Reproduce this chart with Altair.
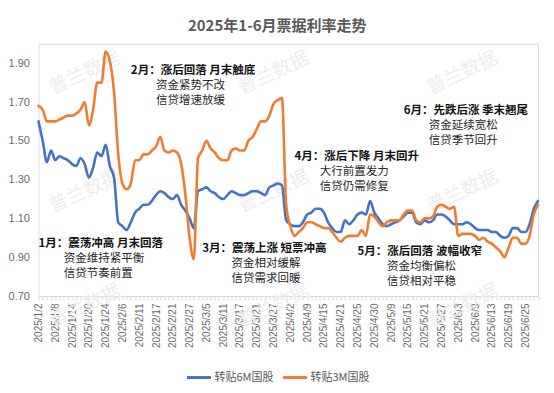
import json
import altair as alt
import pandas as pd

# ---------------- data ----------------
DATES = [
    "2025/1/2", "2025/1/3", "2025/1/6", "2025/1/7", "2025/1/8", "2025/1/9", "2025/1/10",
    "2025/1/13", "2025/1/14", "2025/1/15", "2025/1/16", "2025/1/17", "2025/1/20", "2025/1/21",
    "2025/1/22", "2025/1/23", "2025/1/24", "2025/1/26", "2025/1/27",
    "2025/2/5", "2025/2/6", "2025/2/7", "2025/2/8", "2025/2/10", "2025/2/11", "2025/2/12",
    "2025/2/13", "2025/2/14", "2025/2/17", "2025/2/18", "2025/2/19", "2025/2/20", "2025/2/21",
    "2025/2/24", "2025/2/25", "2025/2/26", "2025/2/27", "2025/2/28",
    "2025/3/3", "2025/3/4", "2025/3/5", "2025/3/6", "2025/3/7", "2025/3/10", "2025/3/11",
    "2025/3/12", "2025/3/13", "2025/3/14", "2025/3/17", "2025/3/18", "2025/3/19", "2025/3/20",
    "2025/3/21", "2025/3/24", "2025/3/25", "2025/3/26", "2025/3/27", "2025/3/28", "2025/3/31",
    "2025/4/1", "2025/4/2", "2025/4/3", "2025/4/7", "2025/4/8", "2025/4/9", "2025/4/10",
    "2025/4/11", "2025/4/14", "2025/4/15", "2025/4/16", "2025/4/17", "2025/4/18", "2025/4/21",
    "2025/4/22", "2025/4/23", "2025/4/24", "2025/4/25", "2025/4/27", "2025/4/28", "2025/4/29",
    "2025/4/30",
    "2025/5/6", "2025/5/7", "2025/5/8", "2025/5/9", "2025/5/12", "2025/5/13", "2025/5/14",
    "2025/5/15", "2025/5/16", "2025/5/19", "2025/5/20", "2025/5/21", "2025/5/22", "2025/5/23",
    "2025/5/26", "2025/5/27", "2025/5/28", "2025/5/29", "2025/5/30",
    "2025/6/3", "2025/6/4", "2025/6/5", "2025/6/6", "2025/6/9", "2025/6/10", "2025/6/11",
    "2025/6/12", "2025/6/13", "2025/6/16", "2025/6/17", "2025/6/18", "2025/6/19", "2025/6/20",
    "2025/6/23", "2025/6/24", "2025/6/25", "2025/6/26", "2025/6/27", "2025/6/30",
]

TICK_LABELS = [
    "2025/1/2", "2025/1/8", "2025/1/14", "2025/1/20", "2025/1/24", "2025/2/6", "2025/2/11",
    "2025/2/17", "2025/2/21", "2025/2/27", "2025/3/5", "2025/3/11", "2025/3/17", "2025/3/21",
    "2025/3/27", "2025/4/2", "2025/4/9", "2025/4/15", "2025/4/21", "2025/4/25", "2025/4/30",
    "2025/5/9", "2025/5/15", "2025/5/21", "2025/5/27", "2025/6/3", "2025/6/9", "2025/6/13",
    "2025/6/19", "2025/6/25",
]

Y_TICKS = [0.70, 0.90, 1.10, 1.30, 1.50, 1.70, 1.90]

SERIES = ["转贴6M国股", "转贴3M国股"]

RATE_6M = [
    1.60, 1.50, 1.39, 1.45, 1.40, 1.42, 1.41, 1.40, 1.38, 1.37, 1.41, 1.38, 1.31, 1.36, 1.44,
    1.42, 1.48, 1.37, 1.31, 1.08, 1.06, 1.04, 1.08, 1.13, 1.15, 1.17, 1.17, 1.19, 1.22, 1.24,
    1.23, 1.21, 1.20, 1.22, 1.17, 1.14, 1.10, 1.05, 1.24, 1.25, 1.26, 1.24, 1.23, 1.21, 1.20,
    1.22, 1.24, 1.23, 1.22, 1.22, 1.23, 1.24, 1.24, 1.23, 1.22, 1.26, 1.27, 1.28, 1.27, 1.09,
    1.07, 1.06, 1.06, 1.08, 1.12, 1.13, 1.15, 1.15, 1.13, 1.08, 1.05, 1.03, 1.03, 1.09, 1.07,
    1.09, 1.12, 1.13, 1.12, 1.19, 1.13, 1.10, 1.07, 1.06, 1.07, 1.08, 1.09, 1.11, 1.13, 1.13,
    1.08, 1.07, 1.09, 1.08, 1.09, 1.12, 1.12, 1.11, 1.09, 1.07, 1.07, 1.07, 1.08, 1.07, 1.05,
    1.04, 1.04, 1.04, 1.03, 1.03, 1.01, 1.00, 1.01, 1.05, 1.05, 1.03, 1.03, 1.07, 1.15, 1.19,
]

RATE_3M = [
    1.68, 1.66, 1.60, 1.60, 1.60, 1.61, 1.62, 1.63, 1.63, 1.64, 1.66, 1.70, 1.58, 1.66, 1.80,
    1.80, 1.96, 1.91, 1.75, 1.43, 1.28, 1.25, 1.28, 1.40, 1.40, 1.43, 1.43, 1.45, 1.47, 1.52,
    1.45, 1.44, 1.45, 1.44, 1.38, 1.22, 1.00, 0.89, 1.41, 1.45, 1.50, 1.46, 1.44, 1.41, 1.40,
    1.40, 1.45, 1.46, 1.45, 1.45, 1.50, 1.52, 1.56, 1.60, 1.60, 1.63, 1.69, 1.71, 1.72, 1.17,
    1.06, 1.01, 1.03, 1.05, 1.08, 1.08, 1.07, 1.06, 1.05, 1.05, 1.03, 1.00, 0.98, 1.00, 1.01,
    1.01, 1.01, 1.04, 1.01, 1.12, 1.11, 1.08, 1.06, 1.08, 1.09, 1.09, 1.09, 1.12, 1.14, 1.14,
    1.09, 1.08, 1.10, 1.10, 1.11, 1.16, 1.17, 1.16, 1.15, 1.16, 1.01, 1.02, 1.02, 1.02, 1.01,
    0.99, 1.00, 0.98, 0.97, 0.95, 0.93, 0.90, 0.95, 1.00, 1.00, 0.97, 0.97, 1.01, 1.12, 1.17,
]

# annotation headers / bodies anchored in data coordinates (left edge, middle line)
NOTE_HEAD_TEXT = ["1月：震荡冲高 月末回落", "2月：涨后回落 月末触底", "3月：震荡上涨 短票冲高",
                  "4月：涨后下降 月末回升", "5月：涨后回落 波幅收窄", "6月：先跌后涨 季末翘尾"]
NOTE_HEAD_DATE = ["2025/1/2", "2025/2/8", "2025/3/4", "2025/4/3", "2025/4/25", "2025/5/14"]
NOTE_HEAD_Y = [0.968, 1.860, 0.942, 1.417, 0.928, 1.655]

NOTE_BODY_TEXT = ["资金维持紧平衡", "信贷节奏前置", "资金紧势不改", "信贷增速放缓",
                  "资金相对缓解", "信贷需求回暖", "大行前置发力", "信贷仍需修复",
                  "资金均衡偏松", "信贷相对平稳", "资金延续宽松", "信贷季节回升"]
NOTE_BODY_DATE = ["2025/1/10", "2025/1/10", "2025/2/17", "2025/2/17", "2025/3/13", "2025/3/13",
                  "2025/4/14", "2025/4/14", "2025/5/8", "2025/5/8", "2025/5/22", "2025/5/22"]
NOTE_BODY_Y = [0.891, 0.814, 1.782, 1.705, 0.865, 0.788, 1.339, 1.262, 0.849, 0.772, 1.576, 1.499]

WM_DATE = ["2025/1/17", "2025/3/27", "2025/6/4"] * 3
WM_Y = [1.85] * 3 + [1.24] * 3 + [0.65] * 3

# ---------------- frames ----------------
df = pd.DataFrame({
    "date": DATES * 2,
    "rate": RATE_6M + RATE_3M,
    "series": [SERIES[0]] * len(DATES) + [SERIES[1]] * len(DATES),
})
heads = pd.DataFrame({"date": NOTE_HEAD_DATE, "y": NOTE_HEAD_Y, "text": NOTE_HEAD_TEXT})
bodies = pd.DataFrame({"date": NOTE_BODY_DATE, "y": NOTE_BODY_Y, "text": NOTE_BODY_TEXT})
wm = pd.DataFrame({"date": WM_DATE, "y": WM_Y, "text": ["普兰数据"] * len(WM_DATE)})

CJK = "Noto Sans CJK SC"
label_expr = "indexof(" + json.dumps(TICK_LABELS, ensure_ascii=False) + ", datum.value) >= 0 ? datum.value : ''"

x_enc = alt.X(
    "date:N", sort=DATES,
    scale=alt.Scale(type="point", domain=DATES, padding=0),
    axis=alt.Axis(title=None, labelAngle=-90, labelExpr=label_expr, labelOverlap=False,
                  labelFontSize=10, labelColor="#6b6b6b", labelFont="Liberation Sans",
                  labelPadding=3, tickSize=4, tickColor="#d9d9d9", domainColor="#d9d9d9",
                  grid=False, labelBound=False),
)
y_scale = alt.Scale(domain=[0.7, 2.0], nice=False, zero=False)
y_enc = alt.Y(
    "rate:Q", scale=y_scale,
    axis=alt.Axis(title=None, values=Y_TICKS, format=".2f", grid=False, domain=False, ticks=False,
                  labelFontSize=11, labelColor="#6b6b6b", labelFont="Liberation Sans", labelPadding=9),
)

watermark = alt.Chart(wm).mark_text(
    font=CJK, fontSize=19, angle=335, color="#ededed", align="center", baseline="middle"
).encode(x=alt.X("date:N", sort=DATES), y=alt.Y("y:Q", scale=y_scale), text="text:N")

lines = alt.Chart(df).mark_line(strokeWidth=2.6, interpolate="monotone", strokeCap="round").encode(
    x=x_enc,
    y=y_enc,
    color=alt.Color(
        "series:N", sort=SERIES,
        scale=alt.Scale(domain=SERIES, range=["#4472C4", "#ED7D31"]),
        legend=alt.Legend(title=None, orient="none", legendX=147, legendY=320, direction="horizontal",
                          symbolType="stroke", symbolSize=576, symbolStrokeWidth=3,
                          labelFontSize=11, labelColor="#595959", labelFont=CJK,
                          labelOffset=2, columnPadding=2),
    ),
)

head_text = alt.Chart(heads).mark_text(
    font=CJK, fontSize=11.5, fontWeight="bold", color="#111111", align="left", baseline="middle"
).encode(x=alt.X("date:N", sort=DATES), y=alt.Y("y:Q", scale=y_scale), text="text:N")

body_text = alt.Chart(bodies).mark_text(
    font=CJK, fontSize=11.5, color="#262626", align="left", baseline="middle"
).encode(x=alt.X("date:N", sort=DATES), y=alt.Y("y:Q", scale=y_scale), text="text:N")

chart = alt.layer(watermark, lines, head_text, body_text).properties(
    width=499.5,
    height=252.2,
    padding={"left": 30.5, "top": 35.8, "right": 8, "bottom": 93},
    autosize=alt.AutoSizeParams(type="none"),
    title=alt.TitleParams("2025年1-6月票据利率走势", font=CJK, fontSize=15, fontWeight="bold",
                          color="#595959", anchor="middle", dx=-11, offset=10),
).configure_view(stroke=None).configure(background="white")

chart.save("out.html", embed_options={"renderer": "svg", "actions": False})
